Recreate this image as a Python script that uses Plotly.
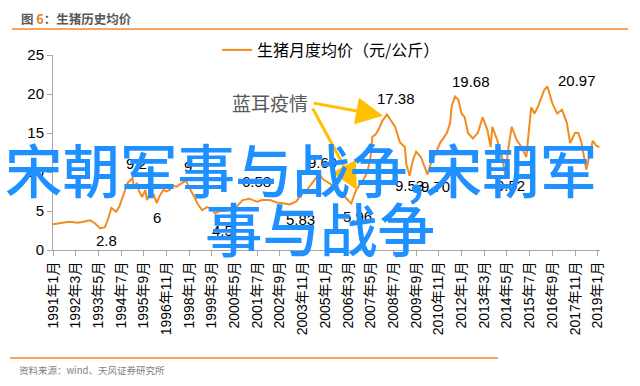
import plotly.graph_objects as go

# ---------------- data ----------------
dates = [
    "1991-01", "1991-04", "1991-07", "1991-10", "1992-01", "1992-04", "1992-07", "1992-10", "1992-12",
    "1993-03", "1993-06", "1993-09", "1993-11", "1994-01", "1994-04", "1994-06", "1994-07", "1994-09",
    "1994-11", "1995-02", "1995-03", "1995-05", "1995-06", "1995-08", "1995-10", "1995-11", "1996-01",
    "1996-02", "1996-03", "1996-05", "1996-07", "1996-09", "1996-11", "1997-01", "1997-03", "1997-05",
    "1997-07", "1997-09", "1997-11", "1998-01", "1998-03", "1998-05", "1998-06", "1998-09", "1998-12",
    "1999-03", "1999-05", "1999-08", "1999-11", "2000-03", "2000-06", "2000-10", "2001-02", "2001-07",
    "2001-10", "2002-03", "2002-07", "2002-11", "2003-03", "2003-07", "2003-11", "2004-02", "2004-05",
    "2004-09", "2004-12", "2005-04", "2005-08", "2005-10", "2006-02", "2006-05", "2006-08", "2006-11",
    "2007-01", "2007-03", "2007-05", "2007-06", "2007-08", "2007-10", "2007-12", "2008-03", "2008-05",
    "2008-08", "2008-11", "2009-02", "2009-03", "2009-05", "2009-07", "2009-09", "2009-12", "2010-02",
    "2010-04", "2010-06", "2010-08", "2010-12", "2011-04", "2011-06", "2011-07", "2011-09", "2011-11",
    "2012-01", "2012-03", "2012-05", "2012-08", "2012-11", "2013-02", "2013-05", "2013-07", "2013-08",
    "2013-11", "2014-02", "2014-04", "2014-06", "2014-08", "2014-11", "2015-02", "2015-05", "2015-08",
    "2015-10", "2015-12", "2016-04", "2016-06", "2016-09", "2016-12", "2017-03", "2017-06", "2017-08",
    "2017-11", "2018-01", "2018-03", "2018-06", "2018-10", "2018-12", "2019-02",
]
prices = [
    3.3, 3.4, 3.5, 3.6, 3.6, 3.5, 3.6, 3.7, 3.8,
    3.4, 2.8, 2.9, 4.0, 5.4, 4.9, 5.6, 6.2, 7.3,
    8.6, 9.2, 8.1, 8.6, 7.6, 6.8, 7.7, 6.4, 7.4,
    6.8, 7.2, 6.0, 7.0, 7.7, 7.5, 7.7, 8.3, 8.1,
    8.4, 8.6, 8.9, 8.0, 7.3, 6.5, 6.0, 5.1, 5.5,
    5.3, 4.7, 5.0, 5.0, 5.3, 5.5, 6.4, 6.58, 6.2,
    6.4, 6.4, 6.1, 6.0, 5.83, 6.2, 7.3, 7.8, 8.6,
    9.69, 9.0, 8.5, 7.8, 7.5, 6.6, 5.96, 7.7, 8.6,
    9.2, 10.0, 12.0, 14.5, 14.8, 15.5, 16.5, 17.38, 16.8,
    15.8, 13.8, 13.2, 11.0, 9.53, 11.5, 12.6, 11.9, 10.8,
    9.70, 11.0, 12.0, 13.8, 15.0, 16.3, 18.5, 19.68, 19.3,
    17.5, 17.0, 15.0, 14.3, 15.0, 17.0, 15.4, 13.2, 15.8,
    14.1, 11.9, 9.52, 13.2, 15.8, 14.1, 13.2, 11.9, 18.3,
    17.5, 18.3, 20.5, 20.97, 18.8, 17.5, 18.0, 16.3, 13.7,
    15.0, 15.0, 13.8, 10.3, 14.0, 13.4, 13.2,
]

tick_labels = [
    "1991年1月", "1992年3月", "1993年5月", "1994年7月", "1995年9月", "1996年11月",
    "1998年1月", "1999年3月", "2000年5月", "2001年7月", "2002年9月", "2003年11月",
    "2005年1月", "2006年3月", "2007年5月", "2008年7月", "2009年9月", "2010年11月",
    "2012年1月", "2013年3月", "2014年5月", "2015年7月", "2016年9月", "2017年11月",
    "2019年1月",
]
y_ticks = [0, 5, 10, 15, 20, 25]

# labelled points: (date, value, text, xshift, yshift)
point_labels = [
    ("1993-06", 2.8, "2.8", 7, -12),
    ("1995-02", 9.2, "9.2", 4, 15),
    ("1996-05", 6.0, "6", 0, -14),
    ("1997-11", 8.9, "9", 2, 14),
    ("1999-05", 4.7, "4.5", 7, -17),
    ("2001-02", 6.58, "6.58", 7, 17),
    ("2003-03", 5.83, "5.83", 11, -15),
    ("2004-09", 9.69, "9.69", 4, 12),
    ("2006-05", 5.96, "5.96", 6, -13),
    ("2008-03", 17.38, "17.38", 9, 16),
    ("2009-05", 9.53, "9.53", 0, -10),
    ("2010-04", 9.70, "9.70", 8, -12),
    ("2011-09", 19.68, "19.68", 16, 15),
    ("2014-04", 9.52, "9.52", 5, -10),
    ("2016-06", 20.97, "20.97", 30, 6),
]

series_name = "生猪月度均价（元/公斤）"
title_text = "图 <span style='color:#E0802A'>6</span>：生猪历史均价"
source_text = "资料来源：wind、天风证券研究所"
note_text = "蓝耳疫情"
overlay_line1 = "宋朝军事与战争,宋朝军"
overlay_line2 = "事与战争"

# ---------------- figure ----------------
W, H = 640, 386
L, R, T, B = 53, 40, 55, 136
pw, ph = W - L - R, H - T - B


def px(x):
    return (x - L) / pw


def py(y):
    return (H - B - y) / ph


FONT = "Liberation Sans, Arial, Noto Sans CJK SC, sans-serif"
ORANGE = "#F28C1E"

tick_vals = []
for lab in tick_labels:
    yr, rest = lab.split("年")
    mo = rest.replace("月", "")
    tick_vals.append(f"{yr}-{int(mo):02d}-01")

fig = go.Figure()
fig.add_trace(go.Scatter(
    x=[d + "-01" for d in dates], y=prices, mode="lines", name=series_name,
    line=dict(color=ORANGE, width=2), showlegend=True,
))

fig.update_layout(
    width=W, height=H,
    margin=dict(l=L, r=R, t=T, b=B),
    paper_bgcolor="white", plot_bgcolor="white",
    font=dict(family=FONT, size=14, color="#000000"),
    showlegend=True,
    legend=dict(orientation="h", x=px(217), y=py(50), xanchor="left", yanchor="middle",
                font=dict(size=16, family="Noto Sans CJK SC, Liberation Sans"),
                bgcolor="rgba(0,0,0,0)", itemwidth=30),
    xaxis=dict(
        type="date", range=["1991-01-01", "2019-02-13"],
        tickmode="array", tickvals=tick_vals, ticktext=tick_labels,
        tickangle=-90, ticks="outside", ticklen=5, tickcolor="#A6A6A6",
        showline=True, linecolor="#A6A6A6", linewidth=1,
        showgrid=False, zeroline=False,
        tickfont=dict(size=14, family=FONT, color="#000000"),
    ),
    yaxis=dict(
        range=[0, 25], tickmode="array", tickvals=y_ticks,
        ticks="outside", ticklen=5, tickcolor="#A6A6A6",
        showline=True, linecolor="#A6A6A6", linewidth=1,
        showgrid=False, zeroline=False,
        tickfont=dict(size=15, family=FONT, color="#000000"),
    ),
)

# frame lines
fig.add_shape(type="line", xref="paper", yref="paper", x0=px(12), x1=px(628), y0=py(29), y1=py(29),
              line=dict(color="#F0862A", width=1.5))
fig.add_shape(type="line", xref="paper", yref="paper", x0=px(10), x1=px(498), y0=py(358), y1=py(358),
              line=dict(color="#F0862A", width=1.5))

ann = []
ann.append(dict(xref="paper", yref="paper", x=px(19), y=py(18), xanchor="left", yanchor="middle",
                text="<b>" + title_text + "</b>", showarrow=False,
                font=dict(size=12.5, color="#595959", family="Noto Sans CJK SC")))
ann.append(dict(xref="paper", yref="paper", x=px(17), y=py(370), xanchor="left", yanchor="middle",
                text=source_text, showarrow=False,
                font=dict(size=9.5, color="#7F7F7F", family="Noto Sans CJK SC")))

for d, v, t, xs, ys in point_labels:
    ann.append(dict(x=d + "-01", y=v, text=t, showarrow=False, xshift=xs, yshift=ys,
                    xanchor="center", yanchor="middle",
                    font=dict(size=15, color="#000000", family=FONT)))

# note + arrows
ann.append(dict(xref="paper", yref="paper", x=px(270), y=py(102), text=note_text, showarrow=False,
                xanchor="center", yanchor="middle",
                font=dict(size=19, color="#595959", family="Noto Sans CJK SC")))
ann.append(dict(x="2007-12-20", y=17.2, text="", showarrow=True, ax=312 - 383, ay=103 - 116,
                arrowcolor="#FFC000", arrowwidth=3, arrowhead=2, arrowsize=1.8))
ann.append(dict(x="2006-08-15", y=7.7, text="", showarrow=True, ax=312 - 357, ay=107 - 190,
                arrowcolor="#FFC000", arrowwidth=3, arrowhead=2, arrowsize=1.8))

# overlay text
ann.append(dict(xref="paper", yref="paper", x=px(301), y=py(168), text=overlay_line1, showarrow=False,
                xanchor="center", yanchor="middle",
                font=dict(size=57.5, color="#1E90FF", family="Noto Sans CJK SC", weight=500)))
ann.append(dict(xref="paper", yref="paper", x=px(320), y=py(227), text=overlay_line2, showarrow=False,
                xanchor="center", yanchor="middle",
                font=dict(size=57.5, color="#1E90FF", family="Noto Sans CJK SC", weight=500)))

fig.update_layout(annotations=ann)
fig.write_html("out.html", config={"displayModeBar": False},
               post_script="document.body.style.margin='0';document.body.style.padding='0';")
